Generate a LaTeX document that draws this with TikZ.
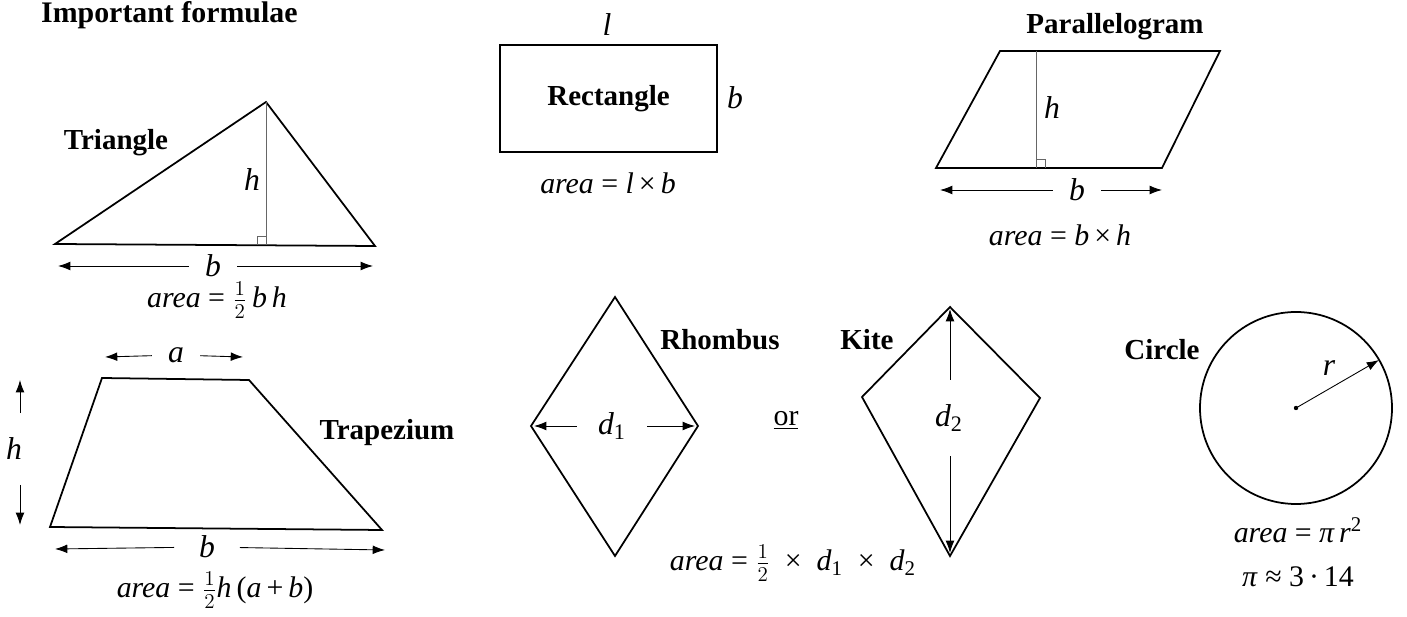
\documentclass[tikz,border=0pt]{standalone}
\usepackage{fontspec}
\setmainfont{Liberation Serif}
\usetikzlibrary{arrows.meta}

\tikzset{
  outline/.style={line width=1pt},
  guide/.style={line width=0.45pt, black!60},
  dim/.style={-{Latex[length=7pt,width=5pt]}, line width=0.5pt},
  lbl/.style={font=\fontsize{16.5}{19}\selectfont\bfseries},
  sym/.style={font=\fontsize{18}{21}\selectfont\itshape},
  gap/.style={sym, inner xsep=9pt, inner ysep=9pt},
  formula/.style={font=\fontsize{17}{20}\selectfont},
}
\newcommand{\half}{\(\frac{1}{2}\)}

\begin{document}
\begin{tikzpicture}[x=0.02cm,y=-0.02cm]
\useasboundingbox (0,0) rectangle (1407,617);

% ------------------- Titel -------------------
\node[lbl, font=\fontsize{17}{20}\selectfont\bfseries, anchor=base west] (title) at (35,23) {Important formulae};

% ------------------- Dreieck -------------------
\coordinate (tA) at (55,244);
\coordinate (tB) at (375,246);
\coordinate (tC) at (266,102);
\coordinate (tF) at (266,245);
\draw[outline] (tA) -- (tB) -- (tC) -- cycle;
\draw[guide] (tC) -- (tF);
\draw[guide] (tF) ++(-9,0) -- ++(0,-9) -- ++(9,0);
\node[sym] (th) at (252,180) {h};
\node[lbl] (tname) at (116,143) {Triangle};
\coordinate (tbL) at (58,266);
\coordinate (tbR) at (373,266);
\node[gap] (tb) at (213,266) {b};
\draw[dim] (tb) -- (tbL);
\draw[dim] (tb) -- (tbR);
\node[formula] (tarea) at (217,300) {\textit{area} = \half\,\textit{b\,h}};

% ------------------- Rechteck -------------------
\node[draw, outline, lbl, minimum width=217*0.02cm, minimum height=107*0.02cm] (rect) at (608.5,98.5) {Rectangle};
\node[sym] (rl) at (607,25) {l};
\node[sym] (rb) at (735,98) {b};
\node[formula] (rarea) at (608,183) {\textit{area} = \textit{l}\,×\,\textit{b}};

% ------------------- Parallelogramm -------------------
\coordinate (pA) at (936,168);
\coordinate (pB) at (1162,168);
\coordinate (pC) at (1220,51);
\coordinate (pD) at (1000,51);
\coordinate (pF) at (1036,168);
\coordinate (pT) at (1036,51);
\draw[outline] (pA) -- (pB) -- (pC) -- (pD) -- cycle;
\draw[guide] (pT) -- (pF);
\draw[guide] (pF) ++(9,0) -- ++(0,-9) -- ++(-9,0);
\node[sym] (ph) at (1052,108) {h};
\node[lbl] (pname) at (1115,27) {Parallelogram};
\coordinate (pbL) at (940,190);
\coordinate (pbR) at (1162,190);
\node[gap] (pb) at (1077,190) {b};
\draw[dim] (pb) -- (pbL);
\draw[dim] (pb) -- (pbR);
\node[formula] (parea) at (1060,235) {\textit{area} = \textit{b}\,×\,\textit{h}};

% ------------------- Trapez -------------------
\coordinate (zA) at (50,527);
\coordinate (zB) at (382,530);
\coordinate (zC) at (249,380);
\coordinate (zD) at (102,378);
\draw[outline] (zA) -- (zB) -- (zC) -- (zD) -- cycle;
\coordinate (zaL) at (105,357);
\coordinate (zaR) at (243,357);
\node[gap] (za) at (176,355) {a};
\draw[dim] (za) -- (zaL);
\draw[dim] (za) -- (zaR);
\coordinate (zhT) at (20,380);
\coordinate (zhB) at (20,525);
\node[gap, inner ysep=14pt] (zh) at (14,449) {h};
\draw[dim] (zh.north -| zhT) -- (zhT);
\draw[dim] (zh.south -| zhB) -- (zhB);
\node[lbl] (zname) at (387,433) {Trapezium};
\coordinate (zbL) at (55,549);
\coordinate (zbR) at (385,550);
\node[gap, inner xsep=14pt] (zb) at (207,547) {b};
\draw[dim] (zb) -- (zbL);
\draw[dim] (zb) -- (zbR);
\node[formula] (zarea) at (215,590) {\textit{area} = \half\textit{h}\,(\textit{a}\,+\,\textit{b})};

% ------------------- Raute -------------------
\coordinate (rT) at (615,297);
\coordinate (rL) at (531,426);
\coordinate (rR) at (698,426);
\coordinate (rB) at (615,556);
\draw[outline] (rT) -- (rR) -- (rB) -- (rL) -- cycle;
\coordinate (rdL) at (534,426);
\coordinate (rdR) at (695,426);
\node[gap, inner xsep=12pt] (rd) at (612,426) {d\textsubscript{\upshape 1}};
\draw[dim] (rd) -- (rdL);
\draw[dim] (rd) -- (rdR);
\node[lbl] (rname) at (720,340) {Rhombus};
\node[formula] (ror) at (786,420) {\underline{or}};

% ------------------- Drachen -------------------
\coordinate (kT) at (950,307);
\coordinate (kL) at (862,397);
\coordinate (kR) at (1040,398);
\coordinate (kB) at (950,556);
\draw[outline] (kT) -- (kR) -- (kB) -- (kL) -- cycle;
\coordinate (kdT) at (950,309);
\coordinate (kdB) at (950,553);
\node[gap, inner ysep=14pt] (kd) at (949,418) {d\textsubscript{\upshape 2}};
\draw[dim] (kd.north -| kdT) -- (kdT);
\draw[dim] (kd.south -| kdB) -- (kdB);
\node[lbl] (kname) at (867,340) {Kite};
\node[formula] (karea) at (793,563) {\textit{area} = \half\ \ ×\ \ \textit{d}\textsubscript{1}\ \ ×\ \ \textit{d}\textsubscript{2}};

% ------------------- Kreis -------------------
\coordinate (cO) at (1296,408);
\coordinate (cR) at (1379,360);
\draw[outline] (cO) circle[radius=96];
\fill (cO) circle[radius=2.2];
\draw[dim] (cO) -- (cR);
\node[sym] (cr) at (1329,368) {r};
\node[lbl] (cname) at (1162,350) {Circle};
\node[formula] (carea) at (1298,530) {\textit{area} = \textit{π\,r}\textsuperscript{2}};
\node[formula] (cpi) at (1298,577) {\textit{π} ≈ 3\,·\,14};

\end{tikzpicture}
\end{document}
